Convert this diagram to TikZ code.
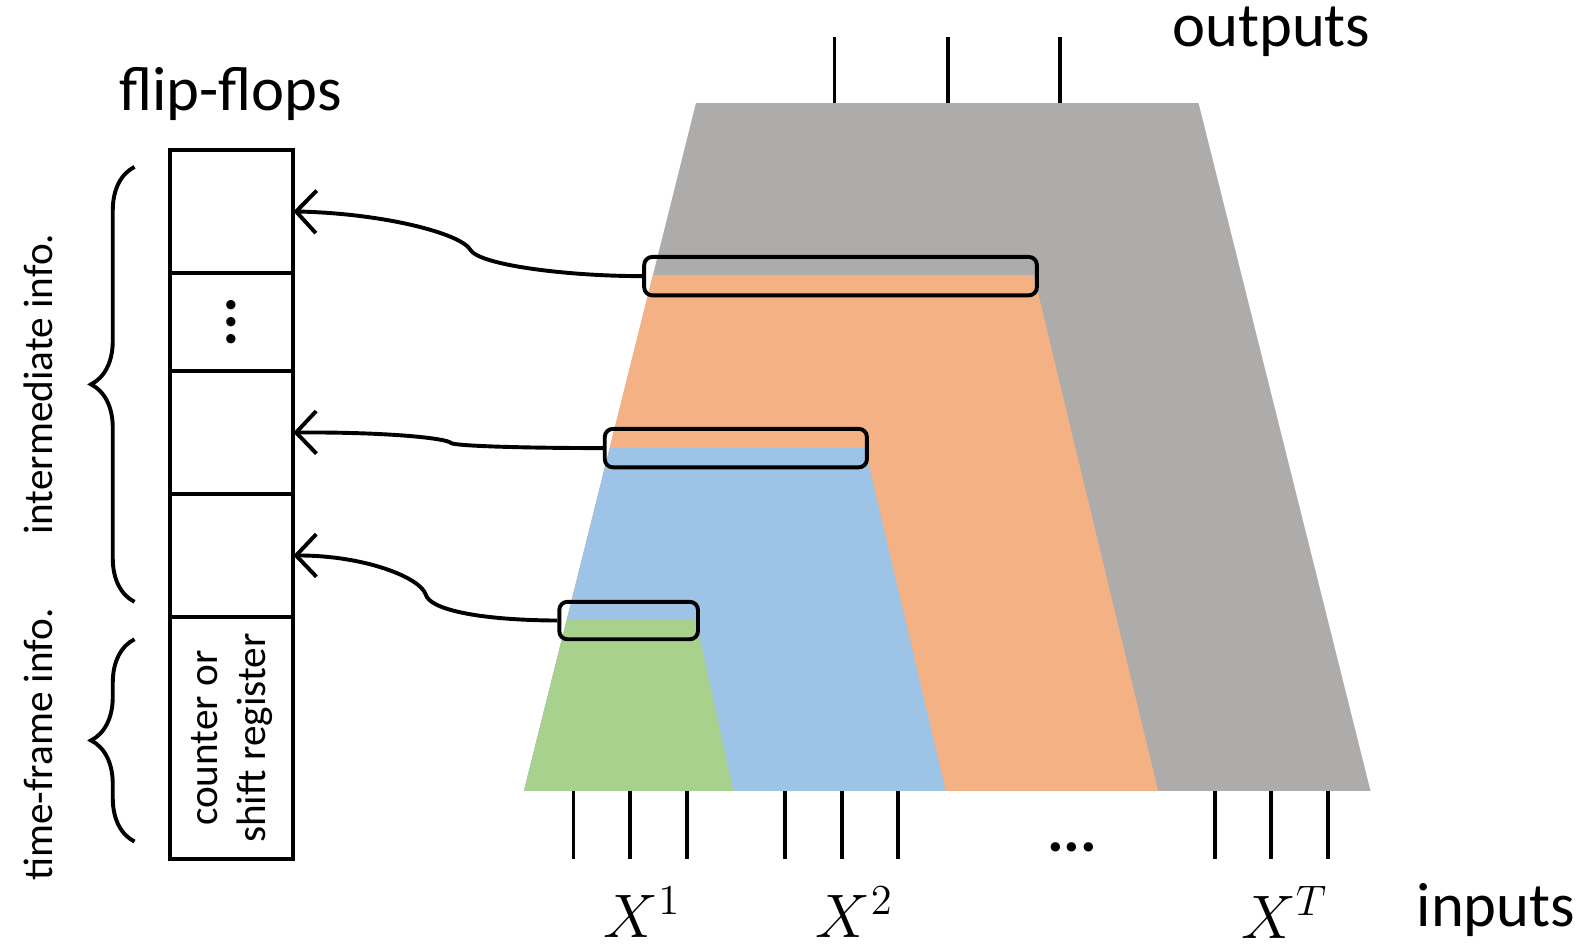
\documentclass[tikz,border=0pt]{standalone}
\usepackage{fontspec}
\setmainfont{Carlito}
\usepackage{xcolor}
\usepackage{tikz}
\usetikzlibrary{arrows.meta,positioning,calc,decorations.pathreplacing}

\definecolor{layergray}{HTML}{AEABAB}
\definecolor{layerorange}{HTML}{F4B183}
\definecolor{layerblue}{HTML}{9DC3E6}
\definecolor{layergreen}{HTML}{A9D18E}

\begin{document}
\begin{tikzpicture}[
    x=0.01cm, y=-0.01cm,
    ffcell/.style={rectangle, draw, line width=1.1pt, outer sep=0pt, inner sep=0pt, minimum width=1.22cm},
    tapbox/.style={rectangle, draw, line width=1.1pt, rounded corners=0.8mm, inner sep=0pt, minimum height=0.38cm},
    tap/.style={-{Straight Barb[length=2mm,width=4.2mm]}, line width=1.1pt},
    curly/.style={decorate, decoration={brace, amplitude=0.43cm}, line width=1.1pt},
    tick/.style={line width=1.1pt},
    biglabel/.style={font=\fontsize{17.6}{21}\selectfont},
    smalllabel/.style={font=\fontsize{11.6}{13.5}\selectfont, align=center}
]
    \useasboundingbox (0,0) rectangle (1568,939);

    % unrolled layers, one per time frame
    \fill [layergray]   (688,102) -- (1185,102) -- (1355,782) -- (518,782) -- cycle;
    \fill [layerorange] (645.5,272) -- (1022,272) -- (1145,782) -- (518,782) -- cycle;
    \fill [layerblue]   (602.75,443) -- (855,443) -- (935,782) -- (518,782) -- cycle;
    \fill [layergreen]  (560.25,613) -- (688,613) -- (725,782) -- (518,782) -- cycle;

    \foreach \x in {825,937,1048}
        \draw [tick] (\x,37) -- (\x,102);
    \foreach \x in {567,623,679,776,832,888,1201,1257,1313}
        \draw [tick] (\x,782) -- (\x,849);

    % flip-flop column
    \node [ffcell, minimum height=1.22cm] (ff1) at (229,209) {};
    \node [ffcell, minimum height=0.97cm, below=0pt of ff1, biglabel] (ff2) {\rotatebox{90}{\textbf{...}}};
    \node [ffcell, minimum height=1.21cm, below=0pt of ff2] (ff3) {};
    \node [ffcell, minimum height=1.22cm, below=0pt of ff3] (ff4) {};
    \node [ffcell, minimum height=2.39cm, below=0pt of ff4] (ff5) {};
    \node [smalllabel, rotate=90] (ctr) at (ff5) {counter or\\shift register};

    \node [biglabel] (fftitle) at (228,93) {flip-flops};

    \draw [curly] (133,595) -- (133,165);
    \draw [curly] (133,832) -- (133,632);
    \node [smalllabel, rotate=90] (inter) at (38,380) {intermediate info.};
    \node [smalllabel, rotate=90] (frame) at (38,736) {time-frame info.};

    % cut points taken into flip-flops
    \node [tapbox, minimum width=3.88cm] (tap1) at (831,273) {};
    \node [tapbox, minimum width=2.59cm] (tap2) at (727.5,443) {};
    \node [tapbox, minimum width=1.37cm, minimum height=0.37cm] (tap3) at (621.5,613.5) {};

    \draw [tap] (tap1.west) .. controls (560,273) and (474,262) .. (465,247)
        .. controls (456,231) and (380,211) .. (ff1.east);
    \draw [tap] (tap2.west) .. controls (520,443) and (450,441) .. (446,438)
        .. controls (441,433) and (380,427) .. (ff3.east);
    \draw [tap] (tap3.west) .. controls (470,613) and (425,602) .. (421,588)
        .. controls (416,571) and (360,549) .. (ff4.east);

    \node [biglabel] (outlabel) at (1257,31) {outputs};
    \node [biglabel] (inlabel) at (1479,900) {inputs};
    \node [biglabel] (x1) at (635,902) {$X^1$};
    \node [biglabel] (x2) at (845,902) {$X^2$};
    \node [biglabel] (xt) at (1270,902) {$X^T$};
    \node [biglabel] (more) at (1060,838) {\textbf{...}};
\end{tikzpicture}
\end{document}
